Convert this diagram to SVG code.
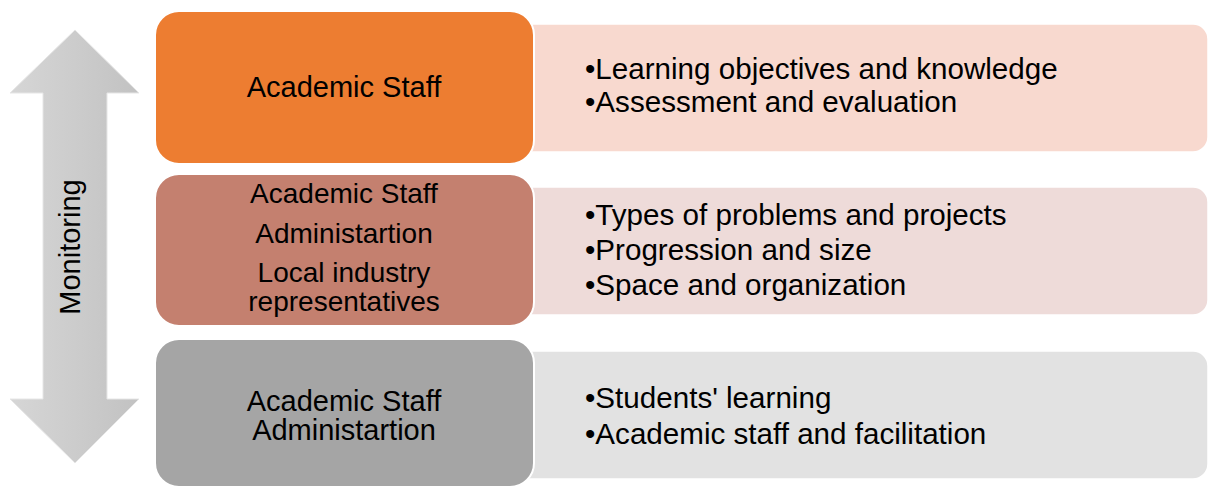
<svg xmlns="http://www.w3.org/2000/svg" width="1209" height="486" viewBox="0 0 1209 486">
  <defs>
    <linearGradient id="arrowGrad" x1="0" y1="0" x2="1" y2="0">
      <stop offset="0" stop-color="#D6D6D6"/>
      <stop offset="1" stop-color="#C2C2C2"/>
    </linearGradient>
  </defs>
  <style>
    text { font-family: "Liberation Sans", Arial, sans-serif; fill: #000; }
    .t { font-size: 29px; }
    .p { font-size: 29.6px; }
    .t2 { font-size: 28px; }
    .c { text-anchor: middle; }
    .panel { stroke: #FFFFFF; stroke-width: 1.5; }
    .box { stroke: #FFFFFF; stroke-width: 2; }
  </style>
  <rect width="1209" height="486" fill="#FFFFFF"/>

  <g id="monitoring-arrow">
    <polygon points="75,30 139,93 107,93 107,399 139,399 75,463 10,399 43,399 43,93 10,93" fill="url(#arrowGrad)" stroke="#E6E6E6" stroke-width="1"/>
    <text class="t c" transform="translate(80,247) rotate(-90)">Monitoring</text>
  </g>

  <g id="panel1">
    <rect class="panel" x="505" y="24" width="703" height="128" rx="15" fill="#F8D9CF"/>
    <text class="p" x="585" y="79">•Learning objectives and knowledge</text>
    <text class="p" x="585" y="112">•Assessment and evaluation</text>
  </g>
  <g id="panel2">
    <rect class="panel" x="505" y="187" width="703" height="128" rx="15" fill="#EEDBD9"/>
    <text class="p" x="585" y="225">•Types of problems and projects</text>
    <text class="p" x="585" y="260">•Progression and size</text>
    <text class="p" x="585" y="295">•Space and organization</text>
  </g>
  <g id="panel3">
    <rect class="panel" x="505" y="351" width="703" height="128" rx="15" fill="#E2E2E2"/>
    <text class="p" x="585" y="408">•Students' learning</text>
    <text class="p" x="585" y="444">•Academic staff and facilitation</text>
  </g>

  <g id="box1">
    <rect class="box" x="155" y="11" width="379" height="153" rx="24" fill="#ED7D31"/>
    <text class="t c" x="344" y="97">Academic Staff</text>
  </g>
  <g id="box2">
    <rect class="box" x="155" y="174" width="379" height="152" rx="24" fill="#C4806F"/>
    <text class="t2 c" x="344" y="203">Academic Staff</text>
    <text class="t2 c" x="344" y="243">Administartion</text>
    <text class="t2 c" x="344" y="282">Local industry</text>
    <text class="t2 c" x="344" y="311">representatives</text>
  </g>
  <g id="box3">
    <rect class="box" x="155" y="339" width="379" height="148" rx="24" fill="#A5A5A5"/>
    <text class="t c" x="344" y="411">Academic Staff</text>
    <text class="t c" x="344" y="440">Administartion</text>
  </g>

  <g id="connectors"></g>
</svg>
